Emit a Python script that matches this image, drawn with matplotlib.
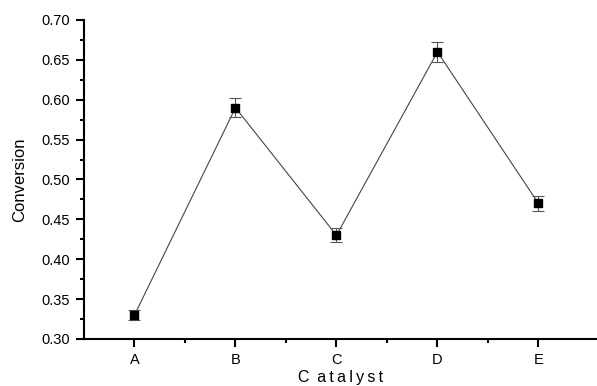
import matplotlib
matplotlib.use("Agg")
import matplotlib.pyplot as plt
from matplotlib.ticker import MultipleLocator

# catalyst conversion with error bars
catalysts = ["A", "B", "C", "D", "E"]
conversion = [0.33, 0.59, 0.43, 0.66, 0.47]
errors = [0.0065, 0.012, 0.009, 0.013, 0.0095]

plt.rcParams['font.family'] = ['Liberation Sans', 'DejaVu Sans']

fig = plt.figure(figsize=(5.97, 3.86), dpi=100)
ax = fig.add_axes([0.1407, 0.1218, 0.8593, 0.8264])

x = list(range(1, len(catalysts) + 1))
ax.plot(x, conversion, color='#444444', linewidth=0.8, zorder=2)
ax.errorbar(x, conversion, yerr=errors, fmt='none', ecolor='#555555',
            elinewidth=0.8, capsize=4, capthick=0.8, zorder=3)
ax.plot(x, conversion, linestyle='none', marker='s', markersize=6,
        color='black', zorder=4)

ax.set_xlim(0.5, 5.58)
ax.set_ylim(0.30, 0.70)
ax.set_xticks(x)
ax.set_xticklabels(catalysts)
ax.set_xticks([1.5, 2.5, 3.5, 4.5], minor=True)
ax.yaxis.set_major_locator(MultipleLocator(0.05))
ax.yaxis.set_minor_locator(MultipleLocator(0.025))
ax.yaxis.set_major_formatter(plt.FuncFormatter(lambda v, p: f"{v:.2f}"))

for side in ['top', 'right']:
    ax.spines[side].set_visible(False)
for side in ['left', 'bottom']:
    ax.spines[side].set_linewidth(1.5)

ax.tick_params(which='major', direction='out', length=6, width=1.5,
               labelsize=10.5, pad=4)
ax.tick_params(which='minor', direction='out', length=3, width=1.5)

ax.set_ylabel("Conversion", fontsize=12, labelpad=10)
ax.set_xlabel("C\u2009 a\u2009t\u2009a\u2009l\u2009y\u2009s\u2009t", fontsize=11.5, labelpad=2)

fig.savefig("out.png", dpi=100)
